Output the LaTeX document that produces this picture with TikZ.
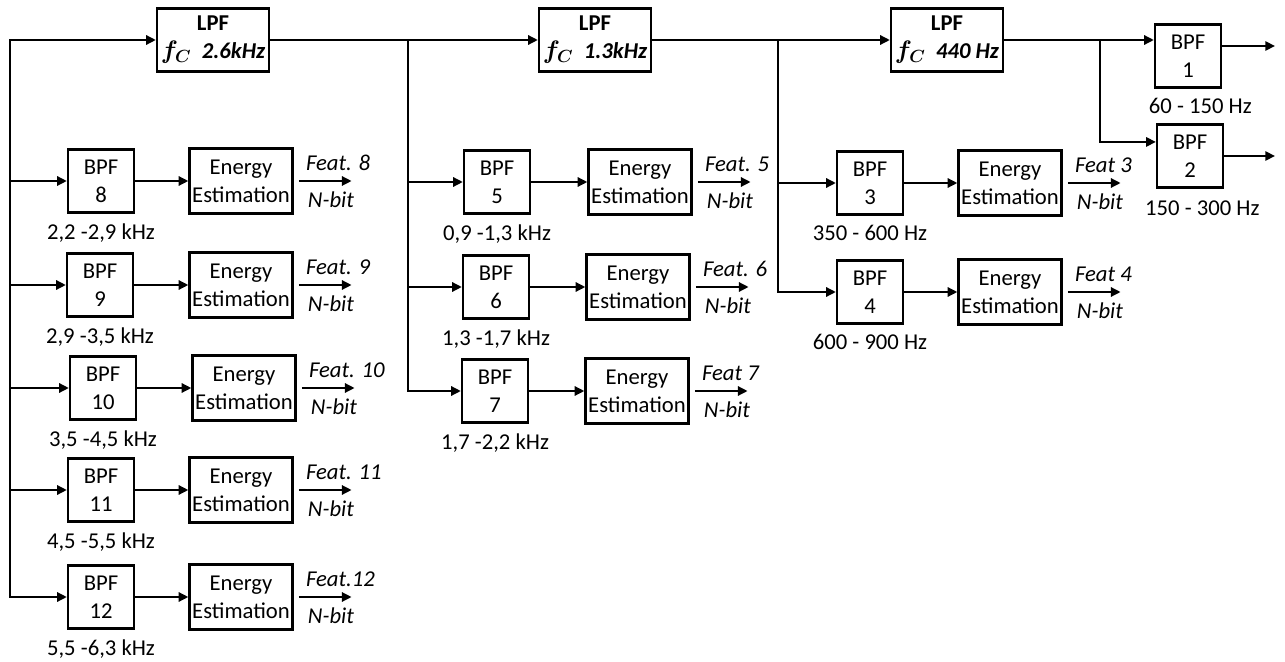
\documentclass[tikz,border=0pt]{standalone}
\usepackage{fontspec}
\setmainfont{Carlito}
\usetikzlibrary{arrows.meta,positioning}
\newcommand{\fcut}{{\fontsize{14}{16}\selectfont\boldmath$f_C$}}

\begin{document}
\begin{tikzpicture}[x=0.02cm, y=-0.02cm, >={Triangle[length=5.5pt,width=5.2pt]},
  line width=1.3pt, font=\fontsize{12.9}{16}\selectfont,
  bpf/.style={draw, align=center, minimum width=1.32cm, minimum height=1.26cm, inner sep=1pt},
  lpf/.style={draw, align=center, minimum width=2.24cm, minimum height=1.26cm, inner sep=1pt},
  est/.style={draw, align=center, minimum width=2.06cm, minimum height=1.3cm, inner sep=1pt},
  rng/.style={inner sep=1pt}
]
\useasboundingbox (0,0) rectangle (1285,662);
% low-pass chain along the top
\coordinate (in) at (10,40);
\node[lpf] (lpf1) at (213,40) {\textbf{LPF}\\\fcut\ \ \textbf{\textit{2.6kHz}}};
\node[lpf] (lpf2) at (595,40) {\textbf{LPF}\\\fcut\ \ \textbf{\textit{1.3kHz}}};
\node[lpf] (lpf3) at (947,40) {\textbf{LPF}\\\fcut\ \ \textbf{\textit{440 Hz}}};
\coordinate (j1) at (408,40);
\coordinate (j2) at (778,40);
\coordinate (j3) at (1100,40);
\draw[->] (in) -- (lpf1);
\draw[->] (lpf1) -- (lpf2);
\draw[->] (lpf2) -- (lpf3);
% band-pass rows with energy estimation
\foreach \n/\br/\bx/\by/\ex/\ft/\rg in {
  8/in/101/181/241/{Feat. 8}/{2,2 -2,9 kHz},
  9/in/100/285/241/{Feat. 9}/{2,9 -3,5 kHz},
  10/in/103/388/244/{Feat. 10}/{3,5 -4,5 kHz},
  11/in/101/490/241/{Feat. 11}/{4,5 -5,5 kHz},
  12/in/101/597/241/{Feat.12}/{5,5 -6,3 kHz},
  5/j1/497/182/640/{Feat. 5}/{0,9 -1,3 kHz},
  6/j1/496/287/638/{Feat. 6}/{1,3 -1,7 kHz},
  7/j1/495/391/637/{Feat 7}/{1,7 -2,2 kHz},
  3/j2/870/183/1010/{Feat 3}/{350 - 600 Hz},
  4/j2/870/292/1010/{Feat 4}/{600 - 900 Hz}}{
  \node[bpf] (bpf\n) at (\bx,\by) {BPF\\\n};
  \node[rng, below=4pt of bpf\n] (r\n) {\rg};
  \node[est] (en\n) at (\ex,\by) {Energy\\Estimation};
  \coordinate (f\n) at ([xshift=33pt]en\n.east);
  \draw[->] (\br |- bpf\n) -- (bpf\n);
  \draw[->] (bpf\n) -- (en\n);
  \draw[->] ([xshift=3pt]en\n.east) -- (f\n)
    node[pos=0, anchor=base west, inner sep=0pt, xshift=3.4pt, yshift=6pt] {\textit{\ft}}
    node[pos=0, anchor=base west, inner sep=0pt, xshift=4.5pt, yshift=-15pt] {\textit{N-bit}};
}
\draw[line cap=rect] (in) -- (in |- bpf12);
\draw[line cap=rect] (j1) -- (j1 |- bpf7);
\draw[line cap=rect] (j2) -- (j2 |- bpf4);
% lowest bands at the right
\node[bpf] (bpf1) at (1188,56) {BPF\\1};
\node[rng, below=4pt of bpf1, xshift=7pt] (r1) {60 - 150 Hz};
\node[bpf] (bpf2) at (1190,156) {BPF\\2};
\node[rng, below=5pt of bpf2, xshift=7pt] (r2) {150 - 300 Hz};
\coordinate (o1) at (1275,46);
\coordinate (o2) at (1275,156);
\draw[->] (lpf3) -- (lpf3 -| bpf1.west);
\draw[->] (j3) |- ([yshift=8pt]bpf2.west);
\draw[->] (bpf1.east |- o1) -- (o1);
\draw[->] (bpf2) -- (o2);
\end{tikzpicture}
\end{document}
